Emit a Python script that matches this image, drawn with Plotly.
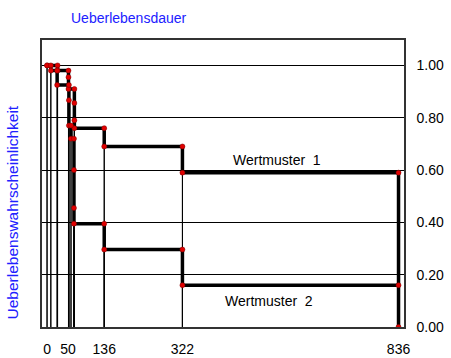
import plotly.graph_objects as go

# Kaplan-Meier step vertices (time, survival)
t_group1 = [0, 25, 25, 51, 51, 51, 65, 65, 65, 65, 136, 136, 322, 322, 836, 836]
s_group1 = [1.0, 1.0, 0.98, 0.98, 0.955, 0.91, 0.91, 0.856, 0.79, 0.76, 0.76, 0.69, 0.69, 0.59, 0.59, 0.0]

t_group2 = [0, 9, 9, 24, 24, 52, 52, 52, 57, 57, 64, 64, 64, 64, 136, 136, 322, 322, 836]
s_group2 = [1.0, 1.0, 0.98, 0.98, 0.925, 0.925, 0.867, 0.77, 0.77, 0.72, 0.72, 0.60, 0.455, 0.395, 0.395, 0.296, 0.296, 0.16, 0.16]

group_names = ["Wertmuster  1", "Wertmuster  2"]
label_pos_x = [546, 528]
label_pos_y = [0.64, 0.098]

x_tick_vals = [0, 50, 136, 322, 836]
x_tick_text = ["0", "50", "136", "322", "836"]
y_tick_vals = [0.0, 0.2, 0.4, 0.6, 0.8, 1.0]
y_tick_text = ["0.00", "0.20", "0.40", "0.60", "0.80", "1.00"]

x_title = "Ueberlebensdauer"
y_title = "Ueberlebenswahrscheinlichkeit"

FONT = "Liberation Sans, Arial, sans-serif"

# drop lines from every vertex down to the time axis
drop_x, drop_y = [], []
for ts, ss in ((t_group1, s_group1), (t_group2, s_group2)):
    for t, s in zip(ts, ss):
        drop_x += [t, t, None]
        drop_y += [0, s, None]

fig = go.Figure()
fig.add_trace(go.Scatter(x=drop_x, y=drop_y, mode="lines",
                         line=dict(color="black", width=1), hoverinfo="skip",
                         showlegend=False))
for ts, ss in ((t_group1, s_group1), (t_group2, s_group2)):
    fig.add_trace(go.Scatter(x=ts, y=ss, mode="lines",
                             line=dict(color="black", width=3.5),
                             showlegend=False))
for ts, ss in ((t_group1, s_group1), (t_group2, s_group2)):
    fig.add_trace(go.Scatter(x=ts, y=ss, mode="markers",
                             marker=dict(color="#e00000", size=5,
                                         line=dict(width=0.5, color="#800000")),
                             showlegend=False))

for name, xp, yp in zip(group_names, label_pos_x, label_pos_y):
    fig.add_annotation(x=xp, y=yp, xref="x", yref="y", text=name,
                       xanchor="center", yanchor="middle",
                       showarrow=False, font=dict(family=FONT, size=14, color="black"))

fig.add_annotation(x=0.24, y=1.077, xref="paper", yref="paper", text=x_title,
                   xanchor="center", yanchor="middle",
                   showarrow=False, font=dict(family=FONT, size=14, color="#2020ff"))
fig.add_annotation(x=-0.082, y=0.40, xref="paper", yref="paper", text=y_title,
                   xanchor="center", yanchor="middle",
                   textangle=-90, showarrow=False,
                   font=dict(family=FONT, size=15.5, color="#2020ff"))

fig.update_layout(
    width=451, height=358,
    margin=dict(l=42, r=47, t=40, b=31),
    paper_bgcolor="white", plot_bgcolor="white",
    font=dict(family=FONT, size=14, color="black"),
    xaxis=dict(range=[-12, 849], tickvals=x_tick_vals, ticktext=x_tick_text,
               showgrid=False, zeroline=False, showline=True, mirror=True,
               linecolor="#333333", linewidth=1.5, ticks="",
               ticklabelstandoff=8, automargin=False),
    yaxis=dict(range=[0, 1.097], side="right", tickvals=y_tick_vals,
               ticktext=y_tick_text, showgrid=True, gridcolor="black",
               gridwidth=1, zeroline=False, showline=True, mirror=True,
               linecolor="#333333", linewidth=1.5, ticks="",
               ticklabelstandoff=8, automargin=False),
)

fig.write_html("out.html")
